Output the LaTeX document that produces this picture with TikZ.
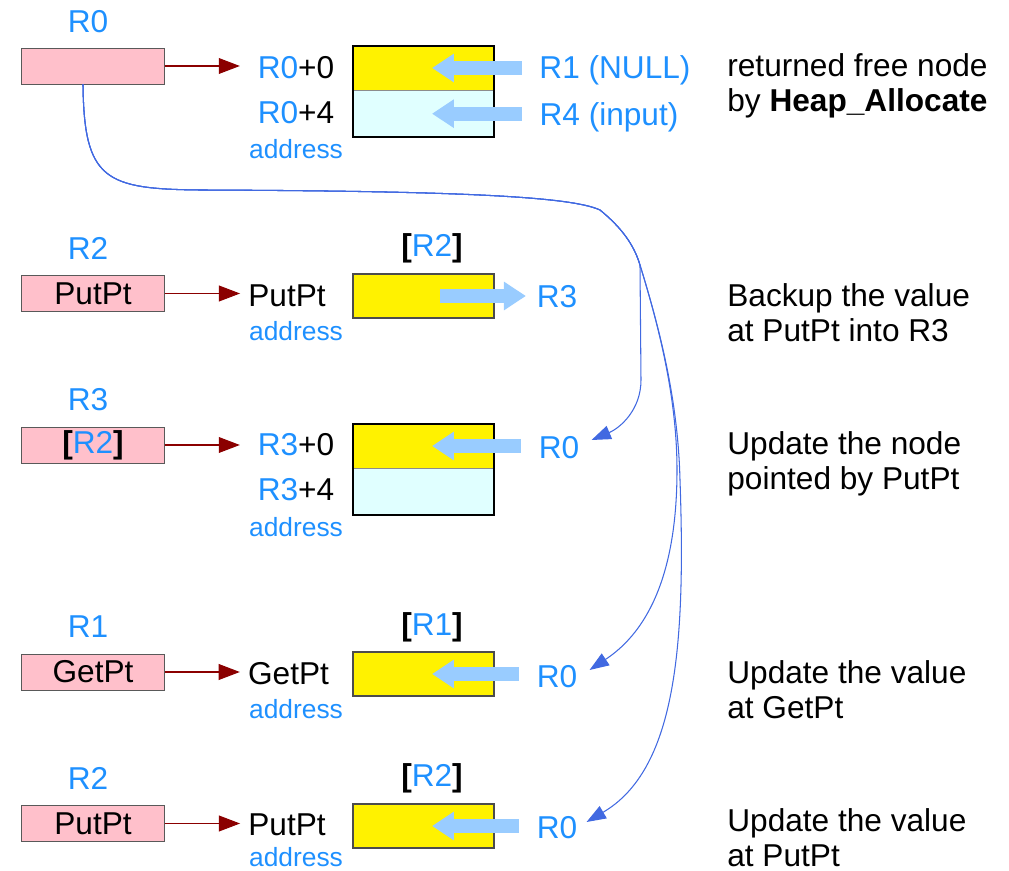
\documentclass[tikz,border=0pt]{standalone}
\usepackage{fontspec}
\setmainfont{Liberation Sans}
\usetikzlibrary{arrows.meta,positioning,calc}

\definecolor{regblue}{HTML}{1E90FF}
\definecolor{linkblue}{HTML}{4169E1}
\definecolor{ptrred}{HTML}{8B0000}
\definecolor{fatblue}{HTML}{99CCFF}
\definecolor{regpink}{HTML}{FFC0CB}
\definecolor{cellcyan}{HTML}{E0FFFF}

\tikzset{
  reg/.style={draw=black!65, fill=regpink, minimum width=2.86cm, minimum height=0.72cm, inner sep=0pt},
  lbl/.style={text=regblue, inner sep=0pt},
  txt/.style={inner sep=0pt},
  addr/.style={text=regblue, font=\fontsize{15}{17}\selectfont, inner sep=0pt},
  note/.style={anchor=west, align=left, inner sep=0pt},
  cellY/.style={fill=yellow, minimum width=2.82cm, minimum height=0.88cm, inner sep=0pt},
  cellC/.style={fill=cellcyan, minimum width=2.82cm, minimum height=0.92cm, inner sep=0pt},
  ptr/.style={draw=ptrred, line width=0.6pt, -{Triangle[length=12pt,width=9pt]}, shorten >=4.5pt},
  fat/.style={draw=fatblue, line width=7.8pt, -{Triangle[length=12.5pt,width=15.5pt]}},
  link/.style={draw=linkblue, line width=0.6pt, -{Triangle[length=11pt,width=8pt]}},
}

\begin{document}
\begin{tikzpicture}[x=0.02cm,y=-0.02cm]
\tikzstyle{every node}=[font=\fontsize{18}{20}\selectfont]
\useasboundingbox (0,0) rectangle (1009,871);

% free node
\node[lbl] (r0) at (88,22) {R0};
\node[reg] (p0) at (93,66) {};
\node[txt] (a0) at (296,68) {\textcolor{regblue}{R0}+0};
\node[txt] (a0b) at (296,113) {\textcolor{regblue}{R0}+4};
\node[addr] (ad0) at (296,149) {address};
\node[cellY] (m0) at (423.5,68) {};
\node[cellC, below=0pt of m0] (m0b) {};
\draw[black!45] (m0.south west) -- (m0.south east);
\draw[line width=1.2pt] (m0.north west) rectangle (m0b.south east);
\node[lbl] (s0) at (615,70) {R1 (NULL)};
\node[lbl] (s0b) at (609,117) {R4 (input)};
\node[note] (d0) at (727,85.5) {returned free node\\by \textbf{Heap\_Allocate}};
\draw[ptr, shorten >=10pt] (p0.east) -- (p0.east -| a0.west);
\draw[fat, shorten <=10pt] (m0.center -| s0.west) -- ($(m0.center)+(8.5,0)$);
\draw[fat, shorten <=10pt] (m0b.center -| s0b.west) -- ($(m0b.center)+(8.5,0)$);

% backup
\node[lbl] (r2) at (88,248) {R2};
\node[reg] (p1) at (93,293.5) {PutPt};
\node[txt] (a1) at (287,296) {PutPt};
\node[addr] (ad1) at (296,331) {address};
\node[cellY, draw=black!70, line width=0.7pt] (m1) at (423.5,296) {};
\node[txt] (b1) at (432,248) {\textbf{[}\textcolor{regblue}{R2}\textbf{]}};
\node[lbl] (s1) at (557,297) {R3};
\node[note] (d1) at (727,312.5) {Backup the value\\at PutPt into R3};
\draw[ptr] (p1.east) -- (p1.east -| a1.west);
\draw[fat, shorten >=6pt] ($(m1.center)+(16.5,0)$) -- (m1.center -| s1.west);

% update node
\node[lbl] (r3) at (88,400) {R3};
\node[reg] (p2) at (93,445) {\textbf{[}\textcolor{regblue}{R2}\textbf{]}};
\node[txt] (a2) at (296,445) {\textcolor{regblue}{R3}+0};
\node[txt] (a2b) at (296,490) {\textcolor{regblue}{R3}+4};
\node[addr] (ad2) at (296,527) {address};
\node[cellY] (m2) at (423.5,446) {};
\node[cellC, below=0pt of m2] (m2b) {};
\draw[black!45] (m2.south west) -- (m2.south east);
\draw[line width=1.2pt] (m2.north west) rectangle (m2b.south east);
\node[lbl] (s2) at (559,448) {R0};
\node[note] (d2) at (727,464) {Update the node\\pointed by PutPt};
\draw[ptr, shorten >=10pt] (p2.east) -- (p2.east -| a2.west);
\draw[fat, shorten <=10pt] (m2.center -| s2.west) -- ($(m2.center)+(8.5,0)$);

% update GetPt
\node[lbl] (r1) at (88,627) {R1};
\node[reg] (p3) at (93,672) {GetPt};
\node[txt] (a3) at (288.5,674) {GetPt};
\node[addr] (ad3) at (296,709) {address};
\node[cellY, draw=black!70, line width=0.7pt] (m3) at (423.5,674) {};
\node[txt] (b3) at (432,627) {\textbf{[}\textcolor{regblue}{R1}\textbf{]}};
\node[lbl] (s3) at (557,677) {R0};
\node[note] (d3) at (727,690) {Update the value\\at GetPt};
\draw[ptr] (p3.east) -- (p3.east -| a3.west);
\draw[fat, shorten <=10pt] (m3.center -| s3.west) -- ($(m3.center)+(8.5,0)$);

% update PutPt
\node[lbl] (r2b) at (88,778) {R2};
\node[reg] (p4) at (93,823.5) {PutPt};
\node[txt] (a4) at (287,825) {PutPt};
\node[addr] (ad4) at (296,857) {address};
\node[cellY, draw=black!70, line width=0.7pt] (m4) at (423.5,826) {};
\node[txt] (b4) at (432,778) {\textbf{[}\textcolor{regblue}{R2}\textbf{]}};
\node[lbl] (s4) at (557,828) {R0};
\node[note] (d4) at (727,838) {Update the value\\at PutPt};
\draw[ptr] (p4.east) -- (p4.east -| a4.west);
\draw[fat, shorten <=10pt] (m4.center -| s4.west) -- ($(m4.center)+(8.5,0)$);

% R0 links
\coordinate (tap) at ($(p0.south)+(-10,0)$);
\draw[link] (tap) .. controls (84,180) and (105,189) .. (200,190)
  .. controls (450,191) and (570,196) .. (600,210)
  .. controls (622,228) and (634,245) .. (640,265) -- (641,380)
  .. controls (641,410) and (620,428) .. ($(s2.east)+(12,-8)$);
\draw[link] (tap) .. controls (84,180) and (105,189) .. (200,190)
  .. controls (450,191) and (570,196) .. (600,210)
  .. controls (622,228) and (634,245) .. (640,265)
  .. controls (660,330) and (677,400) .. (677,470)
  .. controls (677,570) and (650,630) .. ($(s3.east)+(12,-7)$);
\draw[link] (tap) .. controls (84,180) and (105,189) .. (200,190)
  .. controls (450,191) and (570,196) .. (600,210)
  .. controls (622,228) and (634,245) .. (640,265)
  .. controls (660,330) and (678,400) .. (680,480)
  .. controls (686,650) and (675,770) .. ($(s4.east)+(9,-6)$);
\end{tikzpicture}
\end{document}
